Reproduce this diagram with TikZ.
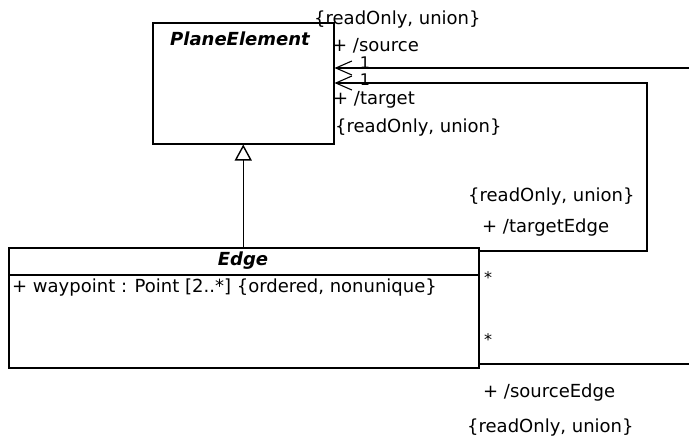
\documentclass[tikz,border=0pt]{standalone}
\usepackage{fontspec}
\setmainfont{DejaVu Sans}
\usepackage{tikz}
\usetikzlibrary{calc}
\usetikzlibrary{arrows.meta}
\usetikzlibrary{positioning}

\newcommand{\umlsize}{\fontsize{18}{21}\selectfont}
\newcommand{\multsize}{\fontsize{16}{18}\selectfont}
\tikzset{
  classbox/.style={draw, line width=1.5pt, inner sep=0pt, anchor=north west},
  lbl/.style={font=\umlsize, inner sep=0pt, anchor=west},
  mult/.style={font=\multsize, inner sep=0pt},
  assoc/.style={line width=1.4pt},
  nav/.style={line width=1.4pt, -{Straight Barb[length=16pt, width=14pt, line width=1.1pt]}},
  gen/.style={line width=1.5pt, -{Triangle[open, length=16pt, width=17pt, line width=1.4pt]}}
}

\begin{document}
\begin{tikzpicture} [x=1pt, y=-1pt]

\useasboundingbox (0,0) rectangle (689,440);

\node[classbox, minimum width=181pt, minimum height=121pt] (plane) at (152,22) {};
\node[font=\umlsize\bfseries\itshape, inner sep=0pt] (planename) at (240,39) {PlaneElement};

\node[classbox, minimum width=470pt, minimum height=120pt] (edge) at (8,247) {};
\coordinate (sepl) at (8,275);
\draw[assoc] (sepl) -- (sepl -| edge.east);
\node[font=\umlsize\bfseries\itshape, inner sep=0pt] (edgename) at (243,261) {Edge};
\node[lbl] (waypoint) at (12,288) {+ waypoint : Point [2..*] {\{}ordered, nonunique{\}}};

\draw[gen] (plane.south |- edge.north) -- (plane.south);

\coordinate (srcend) at (689,68);
\coordinate (tgtturn) at (647,83);
\coordinate (srcedgeend) at (689,364);
\draw[nav] (srcend) -- (srcend -| plane.east);
\draw[nav] ([yshift=-4pt]edge.north east) -| (tgtturn) -- (tgtturn -| plane.east);
\draw[assoc] (edge.east |- srcedgeend) -- (srcedgeend);

\foreach \xx/\yy [count=\i] in {314/20, 335/128, 468/197, 467/428} {
 \node[lbl] (ro\i) at (\xx,\yy) {{\{}readOnly, union{\}}};
};

\node[lbl] (source) at (332,46) {+ /source};
\node[lbl] (target) at (333,100) {+ /target};
\node[lbl] (targetedge) at (482,228) {+ /targetEdge};
\node[lbl] (sourceedge) at (483,393) {+ /sourceEdge};
\node[mult] (srcmult) at (365,63) {1};
\node[mult] (tgtmult) at (365,80) {1};
\node[mult] (tgtedgemult) at (488,278) {*};
\node[mult] (srcedgemult) at (488,340) {*};

\end{tikzpicture}
\end{document}
